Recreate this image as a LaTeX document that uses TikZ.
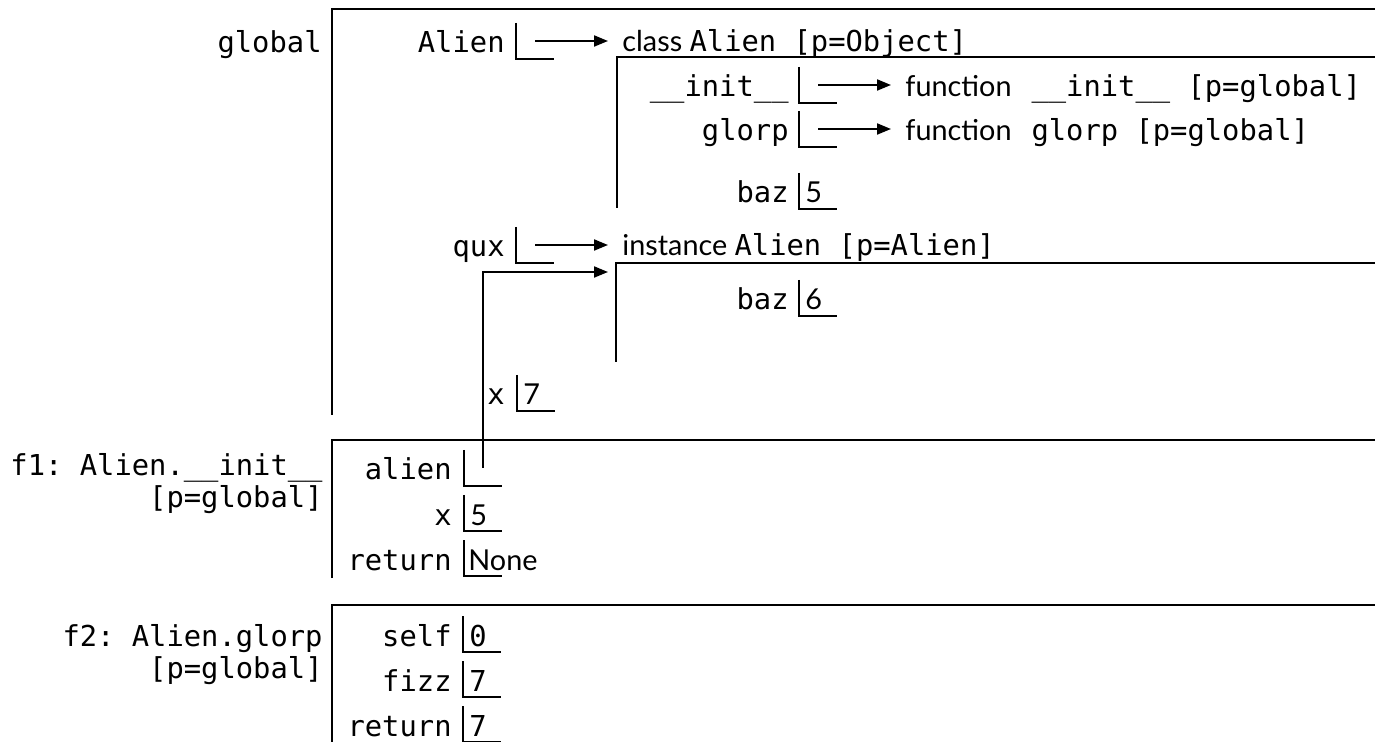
\documentclass[tikz,border=0pt]{standalone}
\usepackage{fontspec}
\setmonofont{DejaVu Sans Mono}
\setsansfont{Lato}
\usetikzlibrary{arrows.meta}

\tikzset{
  frame/.style={line width=1pt},
  ptr/.style={line width=1pt,-{Triangle[length=7pt,width=5.5pt]}},
  lbl/.style={font=\fontsize{14.4}{17}\ttfamily,anchor=base east,inner sep=0pt},
  val/.style={font=\fontsize{14.4}{17}\sffamily,anchor=base west,inner sep=0pt},
  mval/.style={val,font=\fontsize{14.4}{17}\ttfamily},
  hdr/.style={font=\fontsize{14.4}{17}\sffamily,anchor=base west,inner xsep=7pt,inner ysep=0pt},
  varslot/.pic={
    \draw[line width=1pt] (0,-18) |- (38,18);
    \coordinate (-p) at (19,0);
  }
}

\begin{document}
\begin{tikzpicture}[x=0.5pt,y=-0.5pt]
  \useasboundingbox (0,0) rectangle (1375,742);

  % global frame
  \draw[frame] (332,415) |- (1375,9);
  \node[lbl] (lGlobal) at (322,53) {global};
  \node[lbl] (lAlien) at (505,53) {Alien};
  \pic (sAlien) at (516,41) {varslot};
  \node[hdr] (hClass) at (608,52) {class \texttt{Alien [p=Object]}};
  \draw[ptr] (sAlien-p) -- (sAlien-p -| hClass.west);

  % class Alien
  \draw[frame] (617,208) |- (1375,57);
  \node[lbl] (lInit) at (789,97) {\_\_init\_\_};
  \pic (sInit) at (799,85) {varslot};
  \node[hdr] (hInit) at (891,97) {function\hspace{10pt}\texttt{\_\_init\_\_ [p=global]}};
  \draw[ptr] (sInit-p) -- (sInit-p -| hInit.west);
  \node[lbl] (lGlorp) at (789,141) {glorp};
  \pic (sGlorp) at (799,129) {varslot};
  \node[hdr] (hGlorp) at (891,141) {function\hspace{10pt}\texttt{glorp [p=global]}};
  \draw[ptr] (sGlorp-p) -- (sGlorp-p -| hGlorp.west);
  \node[lbl] (lBazC) at (789,203) {baz};
  \pic (sBazC) at (799,191) {varslot};
  \node[val] (vBazC) at (805,203) {5};

  \node[lbl] (lQux) at (505,257) {qux};
  \pic (sQux) at (516,245) {varslot};
  \node[hdr] (hInst) at (608,256) {instance \texttt{Alien [p=Alien]}};
  \draw[ptr] (sQux-p) -- (sQux-p -| hInst.west);

  % instance Alien
  \draw[frame] (616,362) |- (1375,263);
  \coordinate (instIn) at (608,272);
  \node[lbl] (lBazI) at (789,310) {baz};
  \pic (sBazI) at (799,298) {varslot};
  \node[val] (vBazI) at (805,310) {6};

  \node[lbl] (lX) at (505,405) {x};
  \pic (sX) at (517,393) {varslot};
  \node[val] (vX) at (523,405) {7};

  % f1 frame
  \draw[frame] (332,578) |- (1375,440);
  \node[lbl] (lF1) at (323,476) {f1: Alien.\_\_init\_\_};
  \node[lbl] (lF1p) at (323,508) {[p=global]};
  \node[lbl] (lArg) at (452,480) {alien};
  \pic (sArg) at (464,468) {varslot};
  \draw[ptr] (sArg-p) |- (instIn);
  \node[lbl] (lXf1) at (452,525) {x};
  \pic (sXf1) at (464,513) {varslot};
  \node[val] (vXf1) at (470,525) {5};
  \node[lbl] (lRet1) at (452,570) {return};
  \pic (sRet1) at (464,558) {varslot};
  \node[val] (vRet1) at (468,570) {None};

  % f2 frame
  \draw[frame] (332,742) |- (1375,605);
  \node[lbl] (lF2) at (323,646) {f2: Alien.glorp};
  \node[lbl] (lF2p) at (323,678) {[p=global]};
  \node[lbl] (lSelf) at (452,646) {self};
  \pic (sSelf) at (463,634) {varslot};
  \node[mval] (vSelf) at (469,646) {0};
  \node[lbl] (lFizz) at (452,691) {fizz};
  \pic (sFizz) at (463,679) {varslot};
  \node[mval] (vFizz) at (469,691) {7};
  \node[lbl] (lRet2) at (452,736) {return};
  \pic (sRet2) at (463,724) {varslot};
  \node[mval] (vRet2) at (469,736) {7};
\end{tikzpicture}
\end{document}
